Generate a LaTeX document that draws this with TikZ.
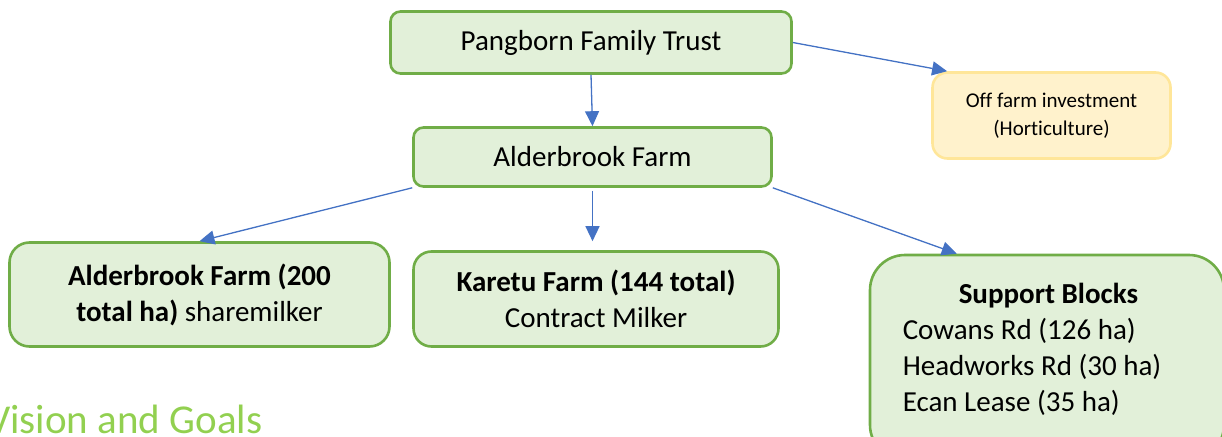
\documentclass[tikz,border=0pt]{standalone}
\usepackage{fontspec}
\setmainfont{Carlito}[Ligatures=NoCommon]
\usetikzlibrary{arrows.meta}
\definecolor{farmfill}{HTML}{E2F0D9}
\definecolor{farmline}{HTML}{70AD47}
\definecolor{investfill}{HTML}{FFF2CC}
\definecolor{investline}{HTML}{FFE699}
\definecolor{linkblue}{HTML}{4472C4}
\definecolor{headgreen}{HTML}{92D050}

\begin{document}
\begin{tikzpicture}[x=1pt, y=-1pt, >={Triangle[length=15pt,width=14pt]},
  farm/.style={draw=farmline, fill=farmfill, line width=2.6pt, rounded corners=10pt, align=center, font=\fontsize{29}{36}\selectfont},
  invest/.style={draw=investline, fill=investfill, line width=2.6pt, rounded corners=15pt, align=center, font=\fontsize{21}{28}\selectfont},
  link/.style={->, draw=linkblue, fill=linkblue, line width=1.3pt}]
\useasboundingbox (0,0) rectangle (1222,436);
\clip (0,0) rectangle (1222,436);
\node[farm, minimum width=401pt, minimum height=62pt] (trust) at (591,42.5) {Pangborn Family Trust};
\node[invest, minimum width=238pt, minimum height=86pt] (offfarm) at (1051.5,115.5) {Off farm investment\\(Horticulture)};
\node[farm, minimum width=358pt, minimum height=59pt] (hub) at (592.5,157) {Alderbrook Farm};
\node[farm, minimum width=380pt, minimum height=104pt, rounded corners=20pt] (alder) at (199.5,294.5) {\textbf{Alderbrook Farm (200}\\\textbf{total ha)} sharemilker};
\node[farm, minimum width=365pt, minimum height=95pt, rounded corners=18pt] (karetu) at (596,299) {\textbf{Karetu Farm (144 total)}\\Contract Milker};
\node[farm, minimum width=354pt, minimum height=205pt, rounded corners=35pt] (support) at (1047,357.5) {};
\node[align=left, font=\fontsize{29}{36}\selectfont] (blocks) at (1032,349) {\hspace*{56pt}\textbf{Support Blocks}\\Cowans Rd (126 ha)\\Headworks Rd (30 ha)\\Ecan Lease (35 ha)};
\node[anchor=base west, inner sep=0pt, text=headgreen, font=\fontsize{41}{49}\selectfont] (vision) at (-13,433) {Vision and Goals};
% links
\draw[link] (trust.south) -- (hub.north);
\draw[link] (trust.east) -- (offfarm.157.5);
\draw[link] (hub.south west) -- (alder.north);
\draw[link, shorten <=3pt, shorten >=9pt] (hub.south) -- (hub.south |- karetu.north);
\draw[link] (hub.south east) -- (support.131.3);
\end{tikzpicture}
\end{document}
